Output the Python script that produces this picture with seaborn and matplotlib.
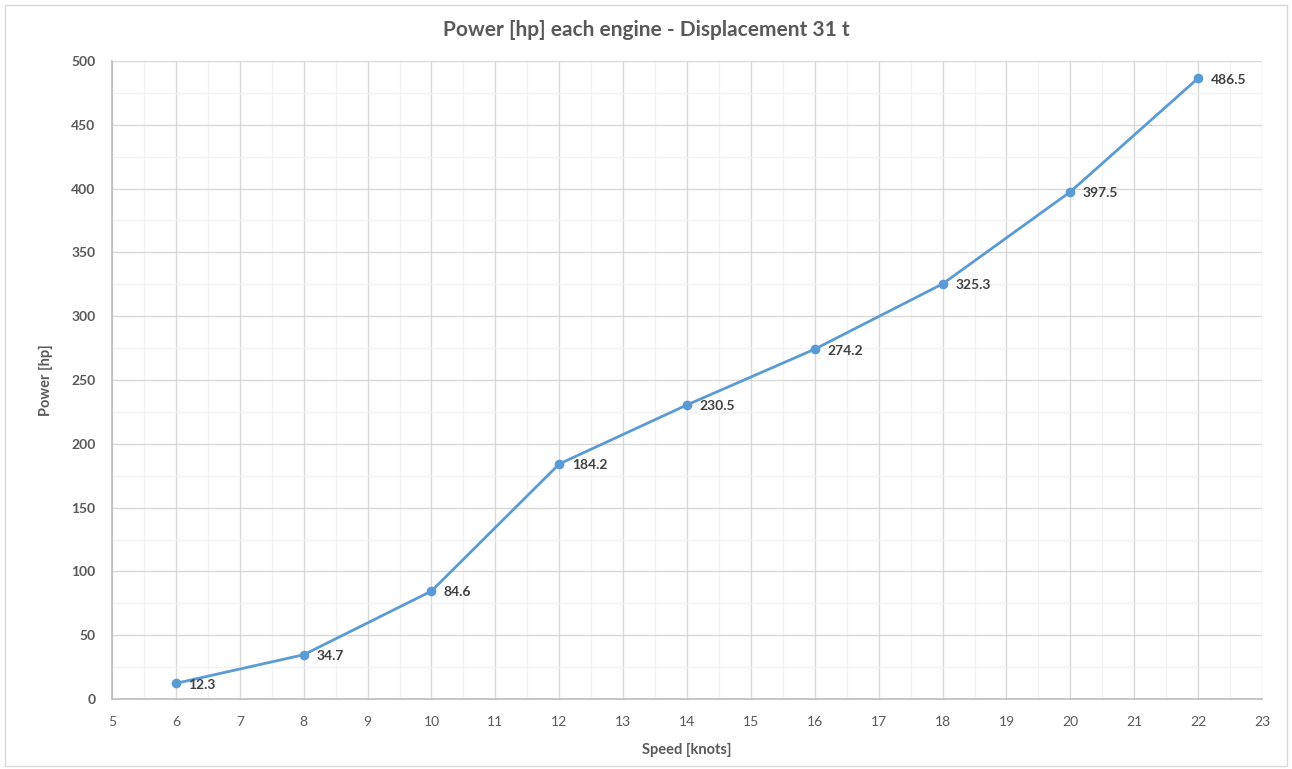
import matplotlib
matplotlib.use('Agg')
import matplotlib.pyplot as plt
import seaborn as sns
import pandas as pd
from matplotlib.ticker import MultipleLocator
from matplotlib.patches import Rectangle

# data
speed_knots = [6, 8, 10, 12, 14, 16, 18, 20, 22]
power_hp = [12.3, 34.7, 84.6, 184.2, 230.5, 274.2, 325.3, 397.5, 486.5]

df = pd.DataFrame({'speed': speed_knots, 'power': power_hp})

sns.set_theme(style='white')
plt.rcParams['font.family'] = ['Lato', 'DejaVu Sans']

text_col = '#595959'
line_col = '#5B9BD5'

fig = plt.figure(figsize=(12.92, 7.69), dpi=100)
ax = fig.add_axes([0.0867, 0.0910, 0.8901, 0.8297])

sns.lineplot(data=df, x='speed', y='power', ax=ax, color=line_col,
             linewidth=2, marker='o', markersize=7, markeredgewidth=0)

for x, y in zip(speed_knots, power_hp):
    ax.annotate(f'{y:.1f}', (x, y), xytext=(9, -1), textcoords='offset points',
                ha='left', va='center', fontsize=10, fontweight='bold', color='#404040')

ax.set_xlim(5, 23)
ax.set_ylim(0, 500)
ax.xaxis.set_major_locator(MultipleLocator(1))
ax.xaxis.set_minor_locator(MultipleLocator(0.5))
ax.yaxis.set_major_locator(MultipleLocator(50))
ax.yaxis.set_minor_locator(MultipleLocator(25))

ax.grid(which='major', color='#D9D9D9', linewidth=1)
ax.grid(which='minor', color='#F2F2F2', linewidth=1)
ax.set_axisbelow(True)

for s in ax.spines.values():
    s.set_visible(False)
ax.spines['left'].set_visible(True)
ax.spines['bottom'].set_visible(True)
ax.spines['left'].set_color('#BFBFBF')
ax.spines['bottom'].set_color('#BFBFBF')

ax.tick_params(axis='both', which='both', length=0, colors=text_col)
ax.tick_params(axis='x', labelsize=10, pad=12)
ax.tick_params(axis='y', labelsize=10, pad=12)
for lbl in ax.get_yticklabels():
    lbl.set_fontweight('bold')

ax.set_xlabel('Speed [knots]', fontsize=10.5, fontweight='bold', color=text_col, labelpad=11)
ax.set_ylabel('Power [hp]', fontsize=10.5, fontweight='bold', color=text_col, labelpad=13)
fig.text(0.5, 0.961, 'Power [hp] each engine - Displacement 31 t', ha='center', va='center',
         fontsize=15, fontweight='bold', color=text_col)

fig.patches.append(Rectangle((0.004, 0.004), 0.992, 0.99, transform=fig.transFigure,
                             fill=False, edgecolor='#D9D9D9', linewidth=1))

fig.savefig('out.png', dpi=100)
